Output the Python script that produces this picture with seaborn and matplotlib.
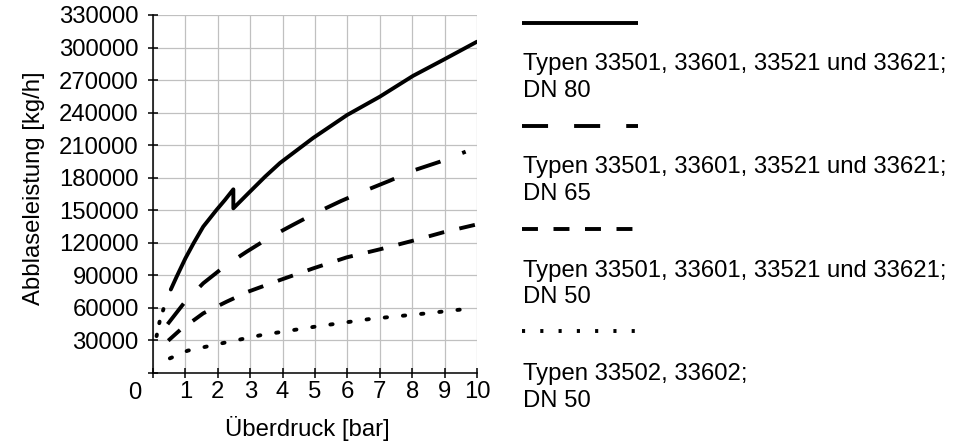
import matplotlib
matplotlib.use("Agg")
import matplotlib.pyplot as plt
from matplotlib.lines import Line2D
import numpy as np
import pandas as pd
import seaborn as sns

# Werte
dn80_x = [0.55, 0.73, 1.0, 1.25, 1.55, 1.96, 2.22, 2.48, 2.48, 2.94, 3.46, 3.92, 4.94, 5.99, 7.0, 8.02, 8.95, 10.0]
dn80_y = [77000, 88800, 105700, 119500, 134900, 150300, 159500, 169300, 151800, 165600, 181000, 193600, 216600, 237800, 254700, 273800, 288500, 305400]

dn80_start_x = [0.11, 0.21, 0.32, 0.39]
dn80_start_y = [34000, 48200, 58700, 67900]

dn65_x = [0.45, 0.99, 1.55, 2.22, 2.89, 3.6, 4.31, 5.0, 5.8, 6.54, 7.31, 8.02, 8.86, 9.65]
dn65_y = [45000, 65700, 82700, 98600, 111800, 125000, 136400, 147200, 158500, 168000, 177300, 186500, 194800, 204000]

dn50_x = [0.47, 0.86, 1.27, 1.55, 2.27, 2.94, 3.92, 4.95, 5.98, 7.0, 8.03, 8.96, 10.0]
dn50_y = [29800, 40300, 48900, 55000, 65700, 75000, 85700, 96500, 106600, 114000, 122000, 129700, 137000]

typ2_x = [0.52, 1.07, 2.22, 3.35, 5.0, 6.7, 8.45, 9.6]
typ2_y = [13500, 20600, 28000, 35000, 42700, 49800, 55000, 58800]

legend_texts = [
    ("Typen 33501, 33601, 33521 und 33621;", "DN 80"),
    ("Typen 33501, 33601, 33521 und 33621;", "DN 65"),
    ("Typen 33501, 33601, 33521 und 33621;", "DN 50"),
    ("Typen 33502, 33602;", "DN 50"),
]

x_ticks = np.arange(0, 11, 1)
y_ticks = np.arange(0, 330001, 30000)

frames = []
for name, xs, ys in [("DN80", dn80_x, dn80_y), ("DN80a", dn80_start_x, dn80_start_y),
                     ("DN65", dn65_x, dn65_y), ("DN50", dn50_x, dn50_y),
                     ("T2", typ2_x, typ2_y)]:
    frames.append(pd.DataFrame({"x": xs, "y": ys, "reihe": name}))
df = pd.concat(frames, ignore_index=True)

sns.set_theme(style="white")
plt.rcParams["font.family"] = ["Liberation Sans", "DejaVu Sans"]
plt.rcParams["text.color"] = "black"
plt.rcParams["axes.labelcolor"] = "black"
plt.rcParams["xtick.color"] = "black"
plt.rcParams["ytick.color"] = "black"
fs = 17.2

dash_map = {"DN80": "", "DN80a": (0.8, 2.6), "DN65": (6.7, 6.0),
            "DN50": (4.1, 4.0), "T2": (0.9, 3.8)}

fig = plt.figure(figsize=(9.73, 4.45), dpi=100)
ax = fig.add_axes([153 / 973, 1 - 373 / 445, 324 / 973, 358 / 445])

sns.lineplot(data=df, x="x", y="y", hue="reihe", style="reihe",
             palette={k: "black" for k in dash_map}, dashes=dash_map,
             estimator=None, sort=False, legend=False, linewidth=2.8, ax=ax)

# runde Punkte fuer die punktierten Linien
for idx, pattern in [(1, (0.4, 3.0)), (4, (0.6, 4.1))]:
    ln = ax.lines[idx]
    ln.set_dash_capstyle("round")
    ln.set_dashes(pattern)

ax.set_xlim(0, 10)
ax.set_ylim(0, 330000)
ax.set_xticks(x_ticks)
ax.set_xticklabels([""] + [str(v) for v in x_ticks[1:]], fontsize=fs)
ax.set_yticks(y_ticks)
ax.set_yticklabels([""] + [str(v) for v in y_ticks[1:]], fontsize=fs)
ax.grid(True, color="#c0c0c0", linewidth=0.9)
for s in ["top", "right"]:
    ax.spines[s].set_visible(False)
for s in ["left", "bottom"]:
    ax.spines[s].set_color("black")
    ax.spines[s].set_linewidth(1.1)
ax.tick_params(axis="both", direction="inout", length=6.5, width=1.1, colors="black",
               left=True, bottom=True)
ax.tick_params(axis="x", pad=2.5)
ax.tick_params(axis="y", pad=7)

ax.text(-0.56, -0.056, "0", transform=ax.get_xaxis_transform(), ha="center", va="center",
        fontsize=fs, clip_on=False)

ax.set_xlabel("Überdruck [bar]", fontsize=fs, va="center")
ax.xaxis.set_label_coords(0.477, -0.154)
ax.set_ylabel("Abblaseleistung [kg/h]", fontsize=fs, va="center")
ax.yaxis.set_label_coords(-0.367, 0.517)

# Legende rechts: Linienmuster oben, Text darunter
legend_styles = [("-", None, 23), ("--", (6.7, 6.7), 126), ("--", (4.1, 4.0), 228.5),
                 ("--", (0.8, 3.9), 331)]
text_base = [(70, 96.7), (173, 200), (277, 303), (380, 407)]
for (ls, dsh, ly), (t1, t2), (b1, b2) in zip(legend_styles, legend_texts, text_base):
    line = Line2D([522 / 973, 638 / 973], [1 - ly / 445, 1 - ly / 445],
                  transform=fig.transFigure, color="black", linewidth=2.8,
                  linestyle=ls, solid_capstyle="butt", dash_capstyle="butt")
    if dsh is not None:
        line.set_dashes(dsh)
    fig.add_artist(line)
    fig.text(523 / 973, 1 - b1 / 445, t1, fontsize=fs, va="baseline", ha="left")
    fig.text(523 / 973, 1 - b2 / 445, t2, fontsize=fs, va="baseline", ha="left")

fig.savefig("out.png", dpi=100)
